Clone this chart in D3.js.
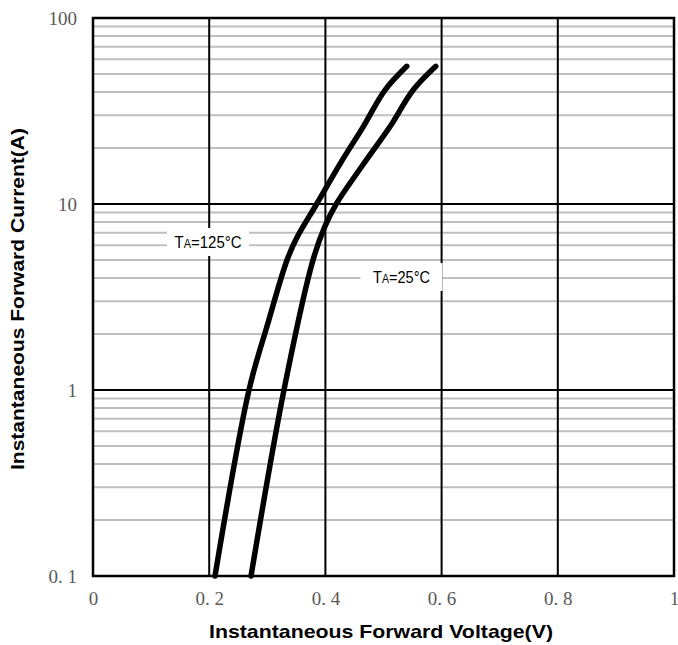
<!DOCTYPE html>
<html>
<head>
<meta charset="utf-8">
<script src="https://cdn.jsdelivr.net/npm/d3@7"></script>
<style>
  body { margin: 0; background: #fff; }
  svg { display: block; }
</style>
</head>
<body>
<svg id="chart" width="678" height="645"></svg>
<script>
// forward voltage (V) vs forward current (A)
var vf125 = [0.210, 0.2685, 0.2995, 0.334, 0.351, 0.385, 0.428, 0.465, 0.5026, 0.540];
var if125 = [0.1, 1, 2.2, 5.0, 6.6, 10, 17, 26, 41, 55];

var vf25 = [0.272, 0.3287, 0.3787, 0.399, 0.4195, 0.4625, 0.511, 0.551, 0.590];
var if25 = [0.1, 1, 5.0, 7.55, 10.1, 15.9, 26, 41, 55];

var xTicks = [0, 0.2, 0.4, 0.6, 0.8, 1];
var xTickLabels = ["0", "0. 2", "0. 4", "0. 6", "0. 8", "1"];
var yTicks = [0.1, 1, 10, 100];
var yTickLabels = ["0. 1", "1", "10", "100"];

var svg = d3.select("#chart");
var margin = { left: 93, right: 4, top: 18, bottom: 69 };
var W = 678, H = 645;

var x = d3.scaleLinear().domain([0, 1]).range([margin.left, W - margin.right]);
var y = d3.scaleLog().domain([0.1, 100]).range([H - margin.bottom, margin.top]);

// minor grid (2..9 in each decade)
var minor = [];
[0.1, 1, 10].forEach(function (d) {
  for (var k = 2; k <= 9; k++) minor.push(d * k);
});

var grid = svg.append("g");
grid.selectAll(".minor").data(minor).enter().append("line")
  .attr("class", "minor")
  .attr("x1", x(0)).attr("x2", x(1))
  .attr("y1", function (d) { return y(d); })
  .attr("y2", function (d) { return y(d); })
  .attr("stroke", "#bfbfbf").attr("stroke-width", 2);

grid.selectAll(".hmajor").data(yTicks).enter().append("line")
  .attr("x1", x(0)).attr("x2", x(1))
  .attr("y1", function (d) { return y(d); })
  .attr("y2", function (d) { return y(d); })
  .attr("stroke", "#000").attr("stroke-width", 2);

grid.selectAll(".vmajor").data(xTicks).enter().append("line")
  .attr("y1", y(0.1)).attr("y2", y(100))
  .attr("x1", function (d) { return x(d); })
  .attr("x2", function (d) { return x(d); })
  .attr("stroke", "#000").attr("stroke-width", 2);

svg.append("rect")
  .attr("x", x(0)).attr("y", y(100))
  .attr("width", x(1) - x(0)).attr("height", y(0.1) - y(100))
  .attr("fill", "none").attr("stroke", "#000").attr("stroke-width", 2.5);

// curves
var line = d3.line()
  .x(function (d) { return x(d[0]); })
  .y(function (d) { return y(d[1]); })
  .curve(d3.curveCatmullRom.alpha(0.5));

[[vf125, if125], [vf25, if25]].forEach(function (s) {
  svg.append("path")
    .datum(d3.zip(s[0], s[1]))
    .attr("d", line)
    .attr("fill", "none")
    .attr("stroke", "#000")
    .attr("stroke-width", 5.5)
    .attr("stroke-linecap", "round")
    .attr("stroke-linejoin", "round");
});

// labels
var labels = [
  { v: 0.198, i: 6.25, t: "125°C", w: 67 },
  { v: 0.531, i: 4.05, t: "25°C", w: 57 }
];
labels.forEach(function (l) {
  var cx = x(l.v), cy = y(l.i);
  svg.append("rect")
    .attr("x", cx - 41).attr("y", cy - 14)
    .attr("width", 82).attr("height", 28)
    .attr("fill", "#fff");
  var t = svg.append("text")
    .attr("x", cx - l.w / 2).attr("y", cy)
    .attr("dy", "0.37em")
    .attr("font-family", "Liberation Sans, Arial, sans-serif")
    .attr("font-size", 16.5)
    .attr("fill", "#000")
    .attr("textLength", l.w)
    .attr("lengthAdjust", "spacingAndGlyphs");
  t.append("tspan").text("T");
  t.append("tspan").attr("font-size", 12).text("A");
  t.append("tspan").text("=" + l.t);
});

// axes (labels only)
var xAxis = d3.axisBottom(x).tickValues(xTicks).tickSize(0).tickPadding(16)
  .tickFormat(function (d, i) { return xTickLabels[i]; });
var yAxis = d3.axisLeft(y).tickValues(yTicks).tickSize(0).tickPadding(16)
  .tickFormat(function (d, i) { return yTickLabels[i]; });

var gx = svg.append("g").attr("transform", "translate(0," + y(0.1) + ")").call(xAxis);
var gy = svg.append("g").attr("transform", "translate(" + x(0) + ",0)").call(yAxis);
[gx, gy].forEach(function (g) {
  g.select(".domain").remove();
  g.selectAll("text")
    .attr("font-family", "Liberation Serif, DejaVu Serif, serif")
    .attr("font-size", 19)
    .attr("fill", "#595959");
});

svg.append("text")
  .attr("x", 209).attr("y", 638)
  .attr("font-family", "Liberation Sans, Arial, sans-serif")
  .attr("font-weight", "bold").attr("font-size", 19)
  .attr("textLength", 344).attr("lengthAdjust", "spacingAndGlyphs")
  .text("Instantaneous Forward Voltage(V)");

svg.append("text")
  .attr("transform", "translate(24,470) rotate(-90)")
  .attr("font-family", "Liberation Sans, Arial, sans-serif")
  .attr("font-weight", "bold").attr("font-size", 19)
  .attr("textLength", 342).attr("lengthAdjust", "spacingAndGlyphs")
  .text("Instantaneous Forward Current(A)");
</script>
</body>
</html>
